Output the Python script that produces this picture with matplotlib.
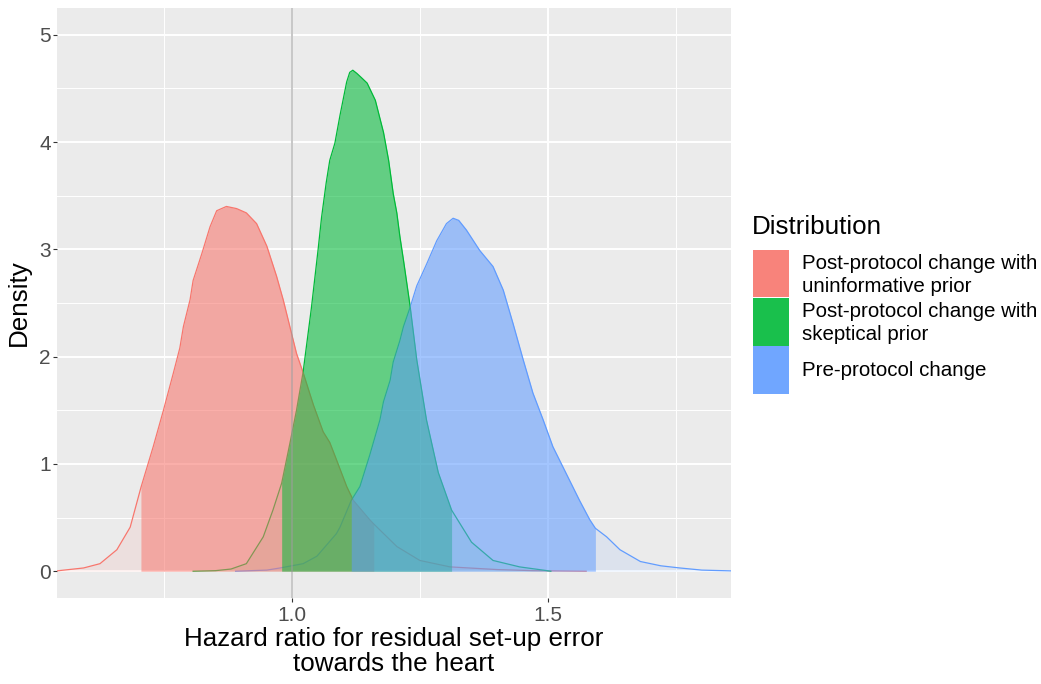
import numpy as np
import matplotlib
matplotlib.use("Agg")
import matplotlib.pyplot as plt
from matplotlib.patches import Rectangle

plt.rcParams['font.family'] = ['Liberation Sans', 'DejaVu Sans']

# Posterior densities of the hazard ratio
series_names = [
    "Post-protocol change with\nuninformative prior",
    "Post-protocol change with\nskeptical prior",
    "Pre-protocol change",
]
series_colors = ["#F8766D", "#00BA38", "#619CFF"]

uninformative_x = [0.540, 0.592, 0.624, 0.657, 0.683, 0.704, 0.728, 0.748, 0.767,
                   0.780, 0.787, 0.800, 0.806, 0.823, 0.839, 0.852, 0.871, 0.891,
                   0.910, 0.930, 0.950, 0.969, 0.982, 0.995, 1.008, 1.021, 1.041,
                   1.060, 1.073, 1.086, 1.106, 1.119, 1.151, 1.159, 1.204, 1.249,
                   1.308, 1.400, 1.470, 1.574]
uninformative_y = [0.003, 0.03, 0.07, 0.20, 0.41, 0.78, 1.16, 1.50, 1.84,
                   2.08, 2.28, 2.53, 2.71, 2.96, 3.21, 3.36, 3.40, 3.38,
                   3.34, 3.24, 3.03, 2.75, 2.53, 2.28, 2.03, 1.85, 1.55,
                   1.30, 1.20, 1.04, 0.79, 0.66, 0.48, 0.44, 0.23, 0.10,
                   0.04, 0.015, 0.005, 0.0]

skeptical_x = [0.806, 0.850, 0.880, 0.910, 0.943, 0.962, 0.979, 0.995, 1.008,
               1.021, 1.037, 1.050, 1.057, 1.066, 1.073, 1.083, 1.093, 1.106,
               1.112, 1.118, 1.126, 1.135, 1.146, 1.162, 1.178, 1.188, 1.197,
               1.204, 1.210, 1.217, 1.230, 1.243, 1.262, 1.285, 1.311, 1.350,
               1.392, 1.444, 1.505]
skeptical_y = [0.0, 0.005, 0.02, 0.07, 0.32, 0.57, 0.82, 1.19, 1.50,
               1.86, 2.45, 2.99, 3.30, 3.62, 3.83, 3.99, 4.25, 4.56,
               4.65, 4.67, 4.64, 4.60, 4.55, 4.39, 4.09, 3.83, 3.52,
               3.34, 3.12, 2.90, 2.47, 1.97, 1.41, 0.92, 0.57, 0.27,
               0.10, 0.04, 0.0]

pre_x = [0.889, 0.950, 0.976, 1.021, 1.048, 1.086, 1.093, 1.115, 1.132,
         1.151, 1.171, 1.178, 1.191, 1.197, 1.210, 1.217, 1.230, 1.243,
         1.262, 1.282, 1.301, 1.314, 1.325, 1.340, 1.366, 1.392, 1.412,
         1.431, 1.451, 1.470, 1.490, 1.509, 1.535, 1.561, 1.581, 1.592,
         1.614, 1.640, 1.680, 1.720, 1.757, 1.800, 1.856]
pre_y = [0.0, 0.01, 0.03, 0.07, 0.14, 0.35, 0.41, 0.66, 0.79,
         1.08, 1.41, 1.58, 1.78, 1.95, 2.15, 2.28, 2.46, 2.66,
         2.86, 3.08, 3.24, 3.29, 3.27, 3.18, 2.99, 2.84, 2.62,
         2.31, 1.97, 1.66, 1.41, 1.16, 0.91, 0.66, 0.48, 0.40,
         0.32, 0.20, 0.09, 0.05, 0.03, 0.01, 0.003]

# 95% credible intervals (lower, upper)
interval_lower = [0.704, 0.979, 1.115]
interval_upper = [1.159, 1.311, 1.592]

x_major_ticks = [1.0, 1.5]
x_tick_labels = ["1.0", "1.5"]
y_major_ticks = [0, 1, 2, 3, 4, 5]
y_tick_labels = ["0", "1", "2", "3", "4", "5"]

curves = [(uninformative_x, uninformative_y),
          (skeptical_x, skeptical_y),
          (pre_x, pre_y)]

W, H = 1041, 684
fig = plt.figure(figsize=(W / 100, H / 100), dpi=100)
fig.patch.set_facecolor("white")

# panel box in pixels
pl, pr, pt, pb = 57, 731, 8, 598
ax = fig.add_axes([pl / W, 1 - pb / H, (pr - pl) / W, (pb - pt) / H])
ax.set_facecolor("#EBEBEB")
for s in ax.spines.values():
    s.set_visible(False)

ax.set_xlim(0.540, 1.857)
ax.set_ylim(-0.25, 5.25)
ax.set_xticks(x_major_ticks)
ax.set_xticklabels(x_tick_labels)
ax.set_yticks(y_major_ticks)
ax.set_yticklabels(y_tick_labels)
ax.set_xticks([0.75, 1.25, 1.75], minor=True)
ax.set_yticks([0.5, 1.5, 2.5, 3.5, 4.5], minor=True)
ax.grid(which="major", color="white", lw=1.4)
ax.grid(which="minor", color="white", lw=0.7)
ax.set_axisbelow(True)
ax.tick_params(which="major", length=3, width=0.8, color="#333333",
               labelsize=15, labelcolor="#4D4D4D")
ax.tick_params(axis="x", which="major", pad=3)
ax.tick_params(axis="y", which="major", pad=1.5)
ax.tick_params(which="minor", length=0)

# full densities: pale fill plus outline
for i, ((xs, ys), c) in enumerate(zip(curves, series_colors)):
    xs = np.asarray(xs)
    ys = np.asarray(ys)
    ax.fill_between(xs, ys, 0, color=c, alpha=0.1, lw=0, zorder=2 + i * 0.1)
    ax.plot(xs, ys, color=c, lw=0.9, zorder=2.05 + i * 0.1)

# credible-interval areas
for i, ((xs, ys), c) in enumerate(zip(curves, series_colors)):
    xs = np.asarray(xs)
    ys = np.asarray(ys)
    m = (xs >= interval_lower[i] - 1e-9) & (xs <= interval_upper[i] + 1e-9)
    ax.fill_between(xs[m], ys[m], 0, color=c, alpha=0.53, lw=0, zorder=4 + i * 0.1)

ax.axvline(1.0, color="#9A9A9A", alpha=0.55, lw=1.4, zorder=5)

ax.set_ylabel("Density", fontsize=18.7, labelpad=6)
ax.set_xlabel("Hazard ratio for residual set-up error\ntowards the heart",
              fontsize=18.7, labelpad=1, linespacing=1.05)

# legend
def fx(px):
    return px / W

def fy(py):
    return 1 - py / H

fig.text(fx(752), fy(227), "Distribution", fontsize=18.7, ha="left", va="center")
key_tops = [250, 298, 346]
key_h = 47.5
for name, c, top in zip(series_names, series_colors, key_tops):
    fig.add_artist(Rectangle((fx(753), fy(top + key_h)), fx(789) - fx(753),
                             fy(top) - fy(top + key_h), transform=fig.transFigure,
                             facecolor=c, alpha=0.9, edgecolor="none"))
    fig.text(fx(802), fy(top + key_h / 2 + 1), name, fontsize=14.8, ha="left",
             va="center", linespacing=1.25)

fig.savefig("out.png", dpi=100)
